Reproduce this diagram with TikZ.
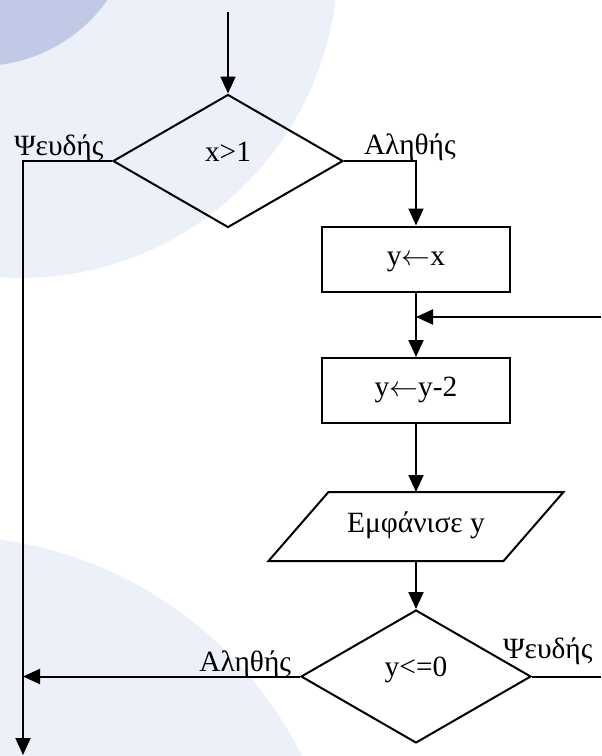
\documentclass[tikz,border=0pt]{standalone}
\usepackage{fontspec}
\setmainfont{Liberation Serif}
\usetikzlibrary{shapes.geometric,arrows.meta}
\definecolor{paleblue}{RGB}{236,240,249}
\definecolor{greyblue}{RGB}{192,201,230}
\begin{document}
\begin{tikzpicture}[x=0.5pt,y=-0.5pt,
  font=\fontsize{14.7}{17}\selectfont,
  line width=1pt,
  arr/.style={-{Triangle[length=8.5pt,width=7.5pt]}},
  decision/.style={draw,diamond,inner sep=0pt,text height=8pt,text depth=8pt,
    minimum width=115pt,minimum height=66.5pt},
  process/.style={draw,rectangle,inner sep=0pt,text height=9pt,text depth=3pt,
    minimum width=94pt,minimum height=32.5pt},
  io/.style={rectangle,inner sep=0pt,text height=9pt,text depth=3.5pt,
    minimum width=146.5pt,minimum height=33.5pt},
  lbl/.style={inner sep=0pt}]
\useasboundingbox (0,0) rectangle (601,756);
% background
\begin{scope}
\clip (0,0) rectangle (601,756);
\fill[white] (0,0) rectangle (601,756);
\fill[paleblue] (20,-40) circle[radius=318];
\fill[greyblue] (-20,-90) circle[radius=156];
\fill[paleblue] (-54,934) circle[radius=398];
\end{scope}

% nodes
\coordinate (start) at (228,12);
\node[decision] (cond1) at (228,161) {x>1};
\node[process] (assign) at (416,259) {y$\leftarrow$x};
\coordinate (join) at (416,317);
\coordinate (loopin) at (601,317);
\node[process] (step2) at (416,390.5) {y$\leftarrow$y-2};
\node[io] (show) at (416,526.5) {Εμφάνισε y};
\draw ([xshift=30pt]show.north west) -- (show.north east)
  -- ([xshift=-30pt]show.south east) -- (show.south west) -- cycle;
\node[decision] (cond2) at (416,676.5) {y<=0};
\coordinate (leftend) at (23,755);
\coordinate (leftjoin) at (23,676.5);
\coordinate (rightend) at (601,676.5);

% connectors
\draw[arr] (start) -- (cond1);
\draw[arr] (cond1.east) -| (assign.north);
\draw (assign.south) -- (join);
\draw[arr] (join) -- (step2.north);
\draw[arr] (loopin) -- (join);
\draw[arr] (step2) -- (show);
\draw[arr] (show) -- (cond2);
\draw[arr] (cond1.west) -| (leftend);
\draw[arr] (cond2.west) -- (leftjoin);
\draw (cond2.east) -- (rightend);

% labels
\node[lbl,anchor=base west] (false1) at (13,155) {Ψευδής};
\node[lbl,anchor=base west] (true1) at (363,154) {Αληθής};
\node[lbl,anchor=base east] (true2) at (292,671) {Αληθής};
\node[lbl,anchor=base west] (false2) at (502,658) {Ψευδής};
\end{tikzpicture}
\end{document}
